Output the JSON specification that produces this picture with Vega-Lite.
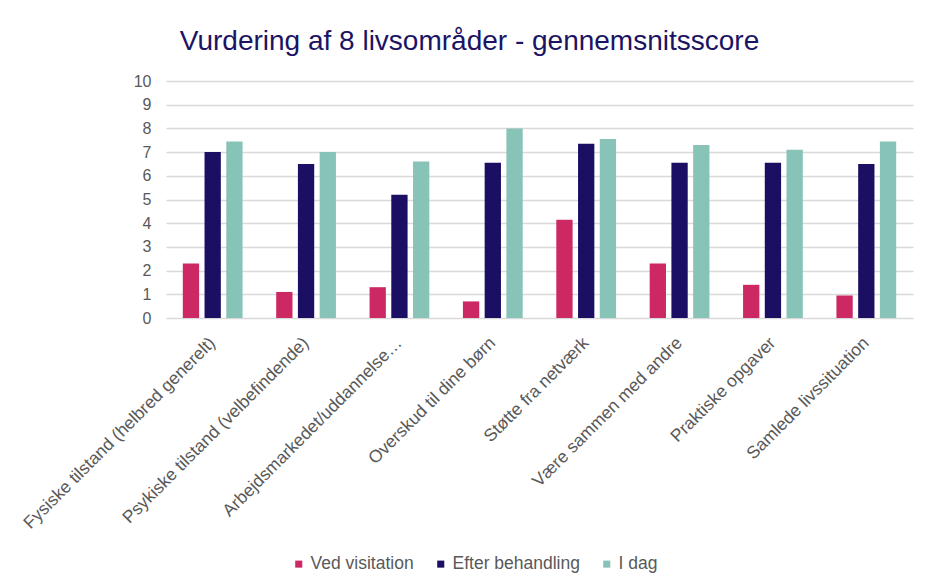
{
  "$schema": "https://vega.github.io/schema/vega-lite/v6.json",
  "width": 747,
  "height": 237,
  "autosize": {"type": "none"},
  "padding": {"left": 166, "top": 81, "right": 16, "bottom": 269},
  "background": "white",
  "title": {
    "text": "Vurdering af 8 livsområder - gennemsnitsscore",
    "anchor": "middle",
    "frame": "group",
    "dx": -70,
    "offset": 17,
    "font": "Liberation Sans",
    "fontSize": 28,
    "fontWeight": "normal",
    "color": "#1B1464"
  },
  "data": {
    "values": [
      {"omraade": "Fysiske tilstand (helbred generelt)", "gruppe": "Ved visitation", "score": 2.3},
      {"omraade": "Fysiske tilstand (helbred generelt)", "gruppe": "Efter behandling", "score": 7.0},
      {"omraade": "Fysiske tilstand (helbred generelt)", "gruppe": "I dag", "score": 7.45},
      {"omraade": "Psykiske tilstand (velbefindende)", "gruppe": "Ved visitation", "score": 1.1},
      {"omraade": "Psykiske tilstand (velbefindende)", "gruppe": "Efter behandling", "score": 6.5},
      {"omraade": "Psykiske tilstand (velbefindende)", "gruppe": "I dag", "score": 7.0},
      {"omraade": "Arbejdsmarkedet/uddannelse…", "gruppe": "Ved visitation", "score": 1.3},
      {"omraade": "Arbejdsmarkedet/uddannelse…", "gruppe": "Efter behandling", "score": 5.2},
      {"omraade": "Arbejdsmarkedet/uddannelse…", "gruppe": "I dag", "score": 6.6},
      {"omraade": "Overskud til dine børn", "gruppe": "Ved visitation", "score": 0.7},
      {"omraade": "Overskud til dine børn", "gruppe": "Efter behandling", "score": 6.55},
      {"omraade": "Overskud til dine børn", "gruppe": "I dag", "score": 8.0},
      {"omraade": "Støtte fra netværk", "gruppe": "Ved visitation", "score": 4.15},
      {"omraade": "Støtte fra netværk", "gruppe": "Efter behandling", "score": 7.35},
      {"omraade": "Støtte fra netværk", "gruppe": "I dag", "score": 7.55},
      {"omraade": "Være sammen med andre", "gruppe": "Ved visitation", "score": 2.3},
      {"omraade": "Være sammen med andre", "gruppe": "Efter behandling", "score": 6.55},
      {"omraade": "Være sammen med andre", "gruppe": "I dag", "score": 7.3},
      {"omraade": "Praktiske opgaver", "gruppe": "Ved visitation", "score": 1.4},
      {"omraade": "Praktiske opgaver", "gruppe": "Efter behandling", "score": 6.55},
      {"omraade": "Praktiske opgaver", "gruppe": "I dag", "score": 7.1},
      {"omraade": "Samlede livssituation", "gruppe": "Ved visitation", "score": 0.95},
      {"omraade": "Samlede livssituation", "gruppe": "Efter behandling", "score": 6.5},
      {"omraade": "Samlede livssituation", "gruppe": "I dag", "score": 7.45}
    ]
  },
  "mark": {"type": "bar"},
  "encoding": {
    "x": {
      "field": "omraade",
      "type": "nominal",
      "sort": null,
      "scale": {"paddingInner": 0.36, "paddingOuter": 0.18},
      "axis": {
        "title": null,
        "labelAngle": -45,
        "labelAlign": "right",
        "labelBaseline": "middle",
        "labelPadding": 22,
        "labelFont": "Liberation Sans",
        "labelFontSize": 17.5,
        "labelColor": "#595959",
        "labelLimit": 400,
        "ticks": false,
        "domain": false,
        "grid": false
      }
    },
    "xOffset": {
      "field": "gruppe",
      "type": "nominal",
      "sort": ["Ved visitation", "Efter behandling", "I dag"],
      "scale": {"paddingInner": 0.25, "paddingOuter": 0}
    },
    "y": {
      "field": "score",
      "type": "quantitative",
      "scale": {"domain": [0, 10]},
      "axis": {
        "title": null,
        "values": [0, 1, 2, 3, 4, 5, 6, 7, 8, 9, 10],
        "labelFont": "Liberation Sans",
        "labelFontSize": 16,
        "labelColor": "#595959",
        "labelPadding": 15,
        "ticks": false,
        "domain": false,
        "gridColor": "#D9D9D9",
        "gridWidth": 1.5
      }
    },
    "color": {
      "field": "gruppe",
      "type": "nominal",
      "sort": ["Ved visitation", "Efter behandling", "I dag"],
      "scale": {
        "domain": ["Ved visitation", "Efter behandling", "I dag"],
        "range": ["#CC2864", "#1A0F63", "#87C4B7"]
      },
      "legend": {
        "title": null,
        "orient": "none",
        "direction": "horizontal",
        "legendX": 124,
        "legendY": 474,
        "symbolType": "square",
        "symbolSize": 50,
        "symbolStrokeWidth": 0,
        "labelFont": "Liberation Sans",
        "labelFontSize": 17.5,
        "labelColor": "#595959",
        "labelOffset": 3,
        "columnPadding": 18
      }
    }
  },
  "config": {
    "view": {"stroke": null}
  }
}
